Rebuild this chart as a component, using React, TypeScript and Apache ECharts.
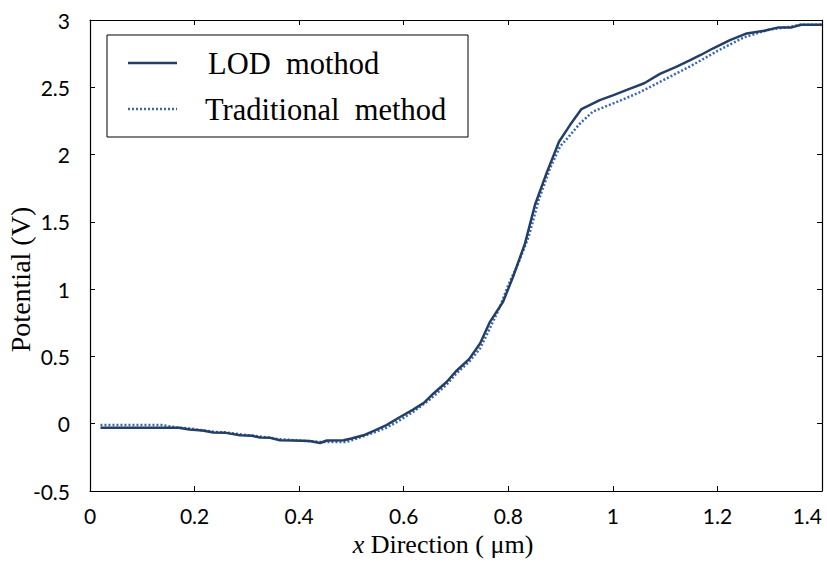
import React, { useEffect, useRef } from "react";
import * as echarts from "echarts";

const lodX = [0.02, 0.10, 0.17, 0.19, 0.215, 0.236, 0.26, 0.287, 0.31, 0.325, 0.345, 0.363, 0.39, 0.42, 0.44, 0.453, 0.485, 0.50, 0.523, 0.545, 0.567, 0.593, 0.618, 0.64, 0.657, 0.682, 0.70, 0.725, 0.746, 0.765, 0.79, 0.809, 0.832, 0.851, 0.873, 0.897, 0.918, 0.94, 0.975, 1.0, 1.033, 1.06, 1.09, 1.12, 1.147, 1.168, 1.192, 1.224, 1.256, 1.29, 1.317, 1.342, 1.36, 1.40];
const lodY = [-0.03, -0.03, -0.03, -0.043, -0.05, -0.066, -0.068, -0.086, -0.09, -0.103, -0.105, -0.123, -0.125, -0.128, -0.143, -0.125, -0.123, -0.11, -0.086, -0.05, -0.011, 0.05, 0.105, 0.16, 0.225, 0.31, 0.39, 0.48, 0.596, 0.757, 0.906, 1.09, 1.34, 1.625, 1.86, 2.095, 2.219, 2.338, 2.405, 2.44, 2.49, 2.53, 2.6, 2.65, 2.70, 2.74, 2.79, 2.85, 2.90, 2.92, 2.945, 2.945, 2.965, 2.965];

const tradX = [0.02, 0.08, 0.137, 0.17, 0.19, 0.236, 0.26, 0.29, 0.325, 0.363, 0.40, 0.44, 0.491, 0.51, 0.54, 0.567, 0.59, 0.618, 0.65, 0.682, 0.70, 0.725, 0.746, 0.765, 0.784, 0.80, 0.819, 0.839, 0.858, 0.88, 0.899, 0.915, 0.937, 0.962, 1.007, 1.05, 1.10, 1.15, 1.2, 1.25, 1.3, 1.34, 1.36, 1.4];
const tradY = [-0.01, -0.01, -0.01, -0.03, -0.035, -0.06, -0.065, -0.08, -0.095, -0.115, -0.125, -0.135, -0.135, -0.11, -0.07, -0.03, 0.02, 0.088, 0.18, 0.29, 0.37, 0.46, 0.559, 0.71, 0.868, 1.03, 1.19, 1.39, 1.66, 1.9, 2.06, 2.13, 2.23, 2.32, 2.39, 2.46, 2.56, 2.66, 2.77, 2.87, 2.93, 2.95, 2.965, 2.965];

const seriesNames = ["LOD  mothod", "Traditional  method"];
const lodColor = "#243f66";
const tradColor = "#3b67a8";

const serif = "'Liberation Serif', 'Times New Roman', serif";
const sans = "Lato, 'Open Sans', sans-serif";

export default function App() {
  const ref = useRef<HTMLDivElement>(null);
  useEffect(() => {
    if (!ref.current) return;
    const chart = echarts.init(ref.current, null, { renderer: "svg" });
    const zip = (xs: number[], ys: number[]) => xs.map((x, i) => [x, ys[i]]);
    const axisCommon = {
      axisLine: { show: true, onZero: false, lineStyle: { color: "#000", width: 1.2 } },
      axisTick: { show: true, inside: true, length: 5, lineStyle: { color: "#000", width: 1 } },
      splitLine: { show: false },
    };
    chart.setOption({
      animation: false,
      backgroundColor: "#fff",
      grid: { left: 90, right: 5, top: 20, bottom: 74, containLabel: false, outerBoundsMode: "none" },
      xAxis: [
        {
          type: "value",
          min: 0,
          max: 1.4,
          interval: 0.2,
          ...axisCommon,
          axisLabel: { fontFamily: sans, fontSize: 21, color: "#000", margin: 14, alignMaxLabel: "right" },
          name: "{i|x} Direction ( μm)",
          nameLocation: "middle",
          nameGap: 40,
          nameMoveOverlap: false,
          nameTextStyle: {
            fontFamily: serif,
            fontSize: 26,
            color: "#000",
            padding: [0, 26, 0, 0],
            rich: { i: { fontFamily: serif, fontSize: 26, fontStyle: "italic", color: "#000" } },
          },
        },
        {
          type: "value",
          position: "top",
          min: 0,
          max: 1.4,
          interval: 0.2,
          ...axisCommon,
          axisLabel: { show: false },
        },
      ],
      yAxis: [
        {
          type: "value",
          min: -0.5,
          max: 3,
          interval: 0.5,
          ...axisCommon,
          axisLabel: { fontFamily: sans, fontSize: 21, color: "#000", margin: 20 },
          name: "Potential (V)",
          nameLocation: "middle",
          nameGap: 56,
          nameMoveOverlap: false,
          nameTextStyle: { fontFamily: serif, fontSize: 28, color: "#000", padding: [0, 48, 0, 0] },
        },
        {
          type: "value",
          position: "right",
          min: -0.5,
          max: 3,
          interval: 0.5,
          ...axisCommon,
          axisLabel: { show: false },
        },
      ],
      series: [
        {
          name: seriesNames[0],
          type: "line",
          data: zip(lodX, lodY),
          showSymbol: false,
          symbol: "none",
          lineStyle: { color: lodColor, width: 2.5 },
          z: 3,
        },
        {
          name: seriesNames[1],
          type: "line",
          data: zip(tradX, tradY),
          showSymbol: false,
          symbol: "none",
          lineStyle: { color: tradColor, width: 2.5, type: [2, 2] },
          z: 2,
        },
      ],
      graphic: [
        {
          type: "group",
          z: 10,
          children: [
            { type: "rect", shape: { x: 107, y: 35, width: 361, height: 102 }, style: { fill: "#fff", stroke: "#000", lineWidth: 1 } },
            { type: "line", shape: { x1: 128, y1: 63, x2: 177, y2: 63 }, style: { stroke: lodColor, lineWidth: 2.5 } },
            { type: "line", shape: { x1: 128, y1: 109, x2: 177, y2: 109 }, style: { stroke: tradColor, lineWidth: 2.5, lineDash: [2, 2] } },
            { type: "text", x: 208, y: 64, style: { text: seriesNames[0], font: `30.5px ${serif}`, fill: "#000", verticalAlign: "middle", align: "left" } },
            { type: "text", x: 205, y: 110, style: { text: seriesNames[1], font: `30.5px ${serif}`, fill: "#000", verticalAlign: "middle", align: "left" } },
          ],
        },
      ],
    });
    return () => chart.dispose();
  }, []);
  return <div ref={ref} style={{ position: "fixed", left: 0, top: 0, width: 827, height: 565 }} />;
}
